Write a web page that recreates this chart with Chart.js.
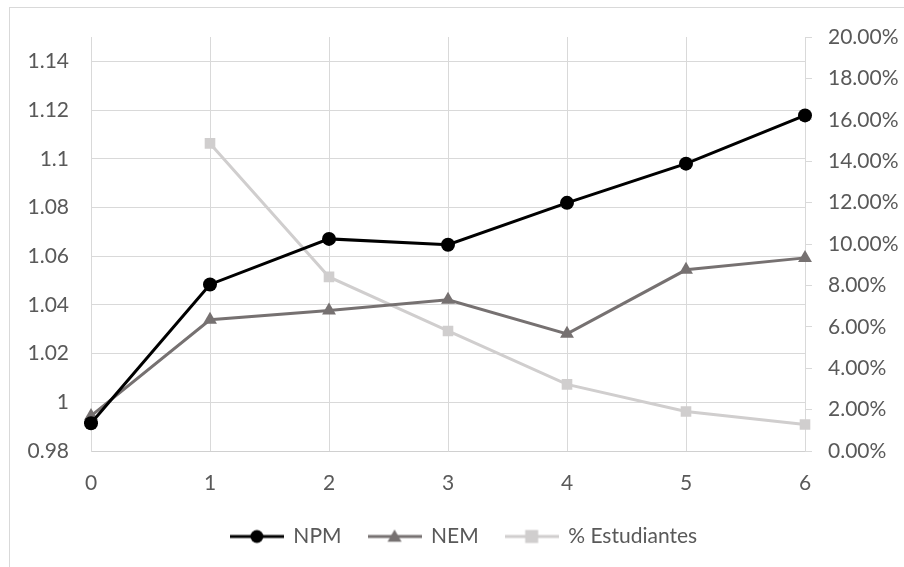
<!DOCTYPE html>
<html>
<head>
<meta charset="utf-8">
<script src="https://cdn.jsdelivr.net/npm/chart.js@4.4.0/dist/chart.umd.min.js"></script>
<style>
  html, body { margin: 0; padding: 0; background: #fff; }
  #wrap { width: 904px; height: 567px; position: relative; }
</style>
</head>
<body>
<div id="wrap"><canvas id="myChart" width="904" height="567"></canvas></div>
<script>
const labels = ['0', '1', '2', '3', '4', '5', '6']
const npm = [0.9914, 1.0484, 1.0671, 1.0647, 1.0819, 1.0980, 1.1178]
const nem = [0.9944, 1.0339, 1.0377, 1.0421, 1.0281, 1.0544, 1.0593]
const estudiantes = [null, 0.1486, 0.0841, 0.0580, 0.0322, 0.0191, 0.0128]
const leftTicks = [0.98, 1, 1.02, 1.04, 1.06, 1.08, 1.1, 1.12, 1.14]
const rightTicks = [0, 0.02, 0.04, 0.06, 0.08, 0.10, 0.12, 0.14, 0.16, 0.18, 0.20]

const textColor = '#595959'
const gridColor = '#D9D9D9'
const fontFamily = 'Lato, "Open Sans", sans-serif'
const fontSize = 21

// little legend pictures: line with the marker in the middle
function legendIcon(color, shape, size) {
    const c = document.createElement('canvas')
    c.width = 54
    c.height = 16
    const g = c.getContext('2d')
    g.strokeStyle = color
    g.lineWidth = 3
    g.beginPath()
    g.moveTo(0, 8)
    g.lineTo(54, 8)
    g.stroke()
    g.fillStyle = color
    g.beginPath()
    if (shape === 'circle') {
        g.arc(27, 8, size, 0, Math.PI * 2)
    } else if (shape === 'triangle') {
        g.moveTo(27, 8 - size)
        g.lineTo(27 + size, 8 + size * 0.75)
        g.lineTo(27 - size, 8 + size * 0.75)
        g.closePath()
    } else {
        g.rect(27 - size, 8 - size, size * 2, size * 2)
    }
    g.fill()
    return c
}

const frame = {
    id: 'frame',
    beforeDraw(chart) {
        const ctx = chart.ctx
        ctx.save()
        ctx.strokeStyle = gridColor
        ctx.lineWidth = 1
        ctx.strokeRect(9.5, 7.5, 1000, 1000)
        ctx.restore()
    }
}

const ctx = document.getElementById('myChart')
let myChart = new Chart(ctx, {
    type: 'line',
    data: {
        labels: labels,
        datasets: [{
            label: 'NPM',
            data: npm,
            yAxisID: 'y',
            borderColor: '#000000',
            backgroundColor: '#000000',
            borderWidth: 3,
            pointStyle: 'circle',
            pointRadius: 7,
            pointBorderWidth: 0,
            legendIcon: legendIcon('#000000', 'circle', 6.5)
        }, {
            label: 'NEM',
            data: nem,
            yAxisID: 'y',
            borderColor: '#767171',
            backgroundColor: '#767171',
            borderWidth: 3,
            pointStyle: 'triangle',
            pointRadius: 8,
            pointBorderWidth: 0,
            legendIcon: legendIcon('#767171', 'triangle', 7)
        }, {
            label: '% Estudiantes',
            data: estudiantes,
            yAxisID: 'y1',
            borderColor: '#D0CECE',
            backgroundColor: '#D0CECE',
            borderWidth: 3,
            pointStyle: 'rect',
            pointRadius: 7.5,
            pointBorderWidth: 0,
            legendIcon: legendIcon('#D0CECE', 'rect', 6.5)
        }]
    },
    options: {
        responsive: false,
        animation: false,
        layout: {
            padding: { top: 37, bottom: 10, left: 24, right: 0 }
        },
        plugins: {
            tooltip: { enabled: false },
            legend: {
                display: true,
                position: 'bottom',
                labels: {
                    color: textColor,
                    font: { family: fontFamily, size: fontSize },
                    usePointStyle: true,
                    pointStyleWidth: 52,
                    padding: 27,
                    generateLabels(chart) {
                        return chart.data.datasets.map((ds, i) => ({
                            text: ds.label,
                            pointStyle: ds.legendIcon,
                            fontColor: textColor,
                            fillStyle: ds.borderColor,
                            strokeStyle: ds.borderColor,
                            lineWidth: 0,
                            hidden: false,
                            datasetIndex: i
                        }))
                    }
                }
            }
        },
        scales: {
            x: {
                type: 'category',
                offset: false,
                grid: { color: gridColor, drawTicks: false },
                border: { color: '#D0D0D0' },
                ticks: {
                    color: textColor,
                    font: { family: fontFamily, size: fontSize },
                    padding: 20,
                    maxRotation: 0
                },
                afterFit(scale) { scale.height = 48 }
            },
            y: {
                position: 'left',
                min: 0.98,
                max: 1.15,
                grid: { color: gridColor, drawTicks: false },
                border: { color: gridColor },
                afterBuildTicks(scale) {
                    scale.ticks = leftTicks.map(v => ({ value: v }))
                },
                ticks: {
                    color: textColor,
                    font: { family: fontFamily, size: fontSize },
                    padding: 22,
                    callback: v => String(Math.round(v * 100) / 100)
                },
                afterFit(scale) { scale.width = 67 }
            },
            y1: {
                position: 'right',
                min: 0,
                max: 0.20,
                grid: { color: gridColor, drawOnChartArea: false, drawTicks: true, tickLength: 7 },
                border: { color: gridColor },
                afterBuildTicks(scale) {
                    scale.ticks = rightTicks.map(v => ({ value: v }))
                },
                ticks: {
                    color: textColor,
                    font: { family: fontFamily, size: fontSize },
                    padding: 16,
                    callback: v => (v * 100).toFixed(2) + '%'
                },
                afterFit(scale) { scale.width = 99 }
            }
        }
    },
    plugins: [frame]
})
</script>
</body>
</html>
